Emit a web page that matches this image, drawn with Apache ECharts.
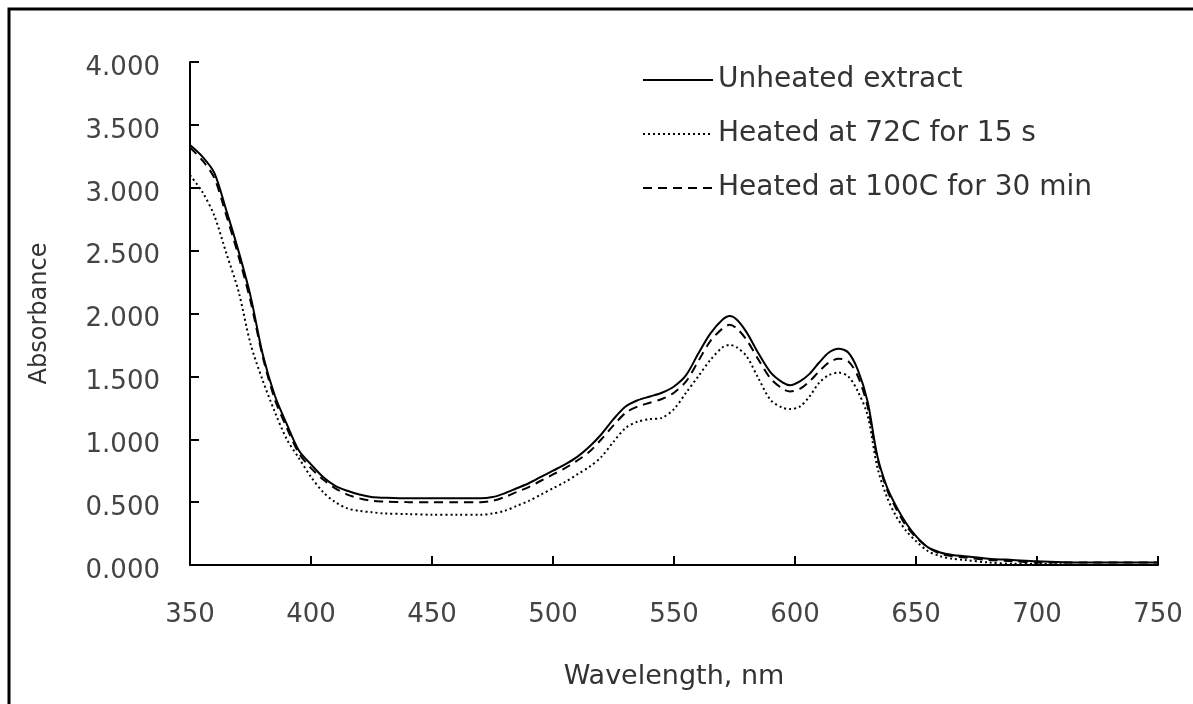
<!DOCTYPE html>
<html>
<head>
<meta charset="utf-8">
<script src="https://cdn.jsdelivr.net/npm/echarts@6/dist/echarts.min.js"></script>
<style>
html,body{margin:0;padding:0;background:#fff;}
#main{width:1193px;height:704px;}
</style>
</head>
<body>
<div id="main"></div>
<script>
const wavelengths = [350,355,360,365,370,375,380,385,390,395,400,405,410,415,420,425,430,440,450,460,470,475,480,485,490,495,500,505,510,515,520,525,530,535,540,545,550,555,560,565,570,573,576,580,585,590,595,598,602,606,610,614,618,622,626,630,634,638,642,646,650,655,660,665,670,680,690,700,720,750];
const unheated = [3.34,3.25,3.12,2.82,2.50,2.14,1.68,1.35,1.12,0.91,0.80,0.70,0.63,0.59,0.56,0.54,0.535,0.53,0.53,0.53,0.53,0.54,0.57,0.61,0.65,0.70,0.75,0.80,0.86,0.94,1.04,1.16,1.26,1.31,1.34,1.37,1.42,1.51,1.68,1.84,1.95,1.98,1.95,1.85,1.68,1.53,1.45,1.43,1.46,1.52,1.61,1.69,1.72,1.69,1.55,1.30,0.87,0.62,0.46,0.33,0.23,0.14,0.10,0.08,0.07,0.05,0.04,0.03,0.02,0.02];
const heated72 = [3.10,2.97,2.78,2.48,2.18,1.76,1.47,1.22,1.00,0.85,0.70,0.58,0.50,0.45,0.43,0.42,0.41,0.405,0.40,0.40,0.40,0.41,0.43,0.47,0.51,0.56,0.61,0.66,0.72,0.78,0.86,0.98,1.09,1.14,1.16,1.17,1.24,1.37,1.50,1.63,1.73,1.75,1.73,1.66,1.48,1.31,1.25,1.24,1.26,1.34,1.45,1.51,1.53,1.50,1.38,1.19,0.78,0.54,0.38,0.27,0.19,0.11,0.07,0.05,0.04,0.02,0.01,0.01,0.00,0.00];
const heated100 = [3.32,3.22,3.08,2.78,2.46,2.10,1.66,1.32,1.09,0.89,0.77,0.68,0.61,0.56,0.53,0.51,0.505,0.50,0.50,0.50,0.50,0.51,0.54,0.58,0.62,0.67,0.72,0.77,0.83,0.90,1.00,1.11,1.21,1.26,1.29,1.32,1.37,1.46,1.62,1.78,1.88,1.91,1.88,1.79,1.63,1.48,1.40,1.38,1.40,1.46,1.54,1.61,1.64,1.62,1.50,1.26,0.85,0.60,0.44,0.31,0.22,0.14,0.09,0.07,0.06,0.04,0.03,0.02,0.02,0.02];
const seriesNames = ['Unheated extract','Heated at 72C for 15 s','Heated at 100C for 30 min'];

function pairs(ys){ return wavelengths.map((w,i)=>[w, ys[i]]); }

const font = 'DejaVu Sans, sans-serif';
const chart = echarts.init(document.getElementById('main'), null, {renderer:'canvas'});
chart.setOption({
  animation:false,
  backgroundColor:'#fff',
  grid:{left:190, right:35, top:62, bottom:139, containLabel:false},
  graphic:[{type:'rect', shape:{x:9, y:9, width:1400, height:1000}, style:{fill:'none', stroke:'#000', lineWidth:3}, silent:true}],
  legend:{
    orient:'vertical', left:637, top:60, itemWidth:70, itemHeight:14, itemGap:24,
    itemStyle:{opacity:0},
    textStyle:{fontFamily:font, fontSize:28, color:'#333', lineHeight:30},
    data:seriesNames
  },
  xAxis:{
    type:'value', min:350, max:750, interval:50,
    name:'Wavelength, nm', nameLocation:'middle', nameGap:98,
    nameTextStyle:{fontFamily:font, fontSize:27, color:'#333'},
    axisLine:{lineStyle:{color:'#000', width:2}},
    axisTick:{inside:true, length:9, lineStyle:{color:'#000', width:2}},
    axisLabel:{fontFamily:font, fontSize:26, color:'#444', margin:37},
    splitLine:{show:false}
  },
  yAxis:{
    type:'value', min:0, max:4, interval:0.5,
    name:'Absorbance', nameLocation:'middle', nameGap:138, nameRotate:90,
    nameTextStyle:{fontFamily:font, fontSize:24, color:'#333'},
    axisLine:{show:true, lineStyle:{color:'#000', width:2}},
    axisTick:{show:true, inside:true, length:9, lineStyle:{color:'#000', width:2}},
    axisLabel:{fontFamily:font, fontSize:26, color:'#444', margin:30, verticalAlign:'top', lineHeight:12, formatter:v=>v.toFixed(3)},
    splitLine:{show:false}
  },
  series:[
    {name:seriesNames[0], type:'line', data:pairs(unheated), symbol:'none', smooth:0.3,
     lineStyle:{color:'#000', width:2, type:'solid'}, itemStyle:{color:'#000'}},
    {name:seriesNames[1], type:'line', data:pairs(heated72), symbol:'none', smooth:0.3,
     lineStyle:{color:'#000', width:2, type:[2,3]}, itemStyle:{color:'#000'}},
    {name:seriesNames[2], type:'line', data:pairs(heated100), symbol:'none', smooth:0.3,
     lineStyle:{color:'#000', width:2, type:[9,6]}, itemStyle:{color:'#000'}}
  ]
});
</script>
</body>
</html>
